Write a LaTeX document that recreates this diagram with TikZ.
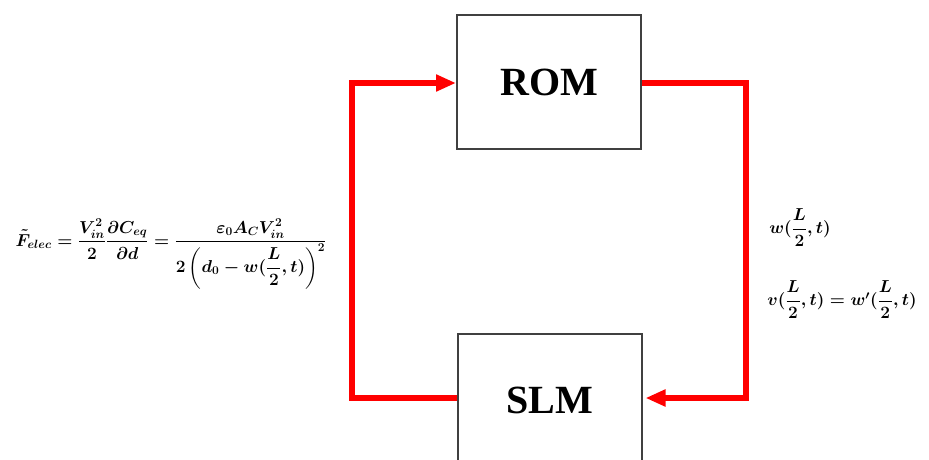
\documentclass[tikz,border=0pt]{standalone}
\usepackage{amsmath}
\usepackage{fontspec}
\setmainfont{Liberation Serif}
\usetikzlibrary{arrows.meta}
\begin{document}
\begin{tikzpicture}[x=1pt,y=-1pt,
	block/.style={draw=black!75,line width=2pt,minimum width=184pt,minimum height=133pt,inner sep=0pt,font=\bfseries\fontsize{40}{40}\selectfont},
	link/.style={red,line width=6pt},
	tip/.style={-{Triangle[length=20pt,width=16pt]}},
	eq/.style={inner sep=0pt,font=\fontsize{18.5}{22}\selectfont\boldmath}]
	\useasboundingbox (0,0) rectangle (929,460);
	\clip (0,0) rectangle (929,460);
	% Define the blocks
	\node[block] (rom) at (549,82) {ROM};
	\node[block] (slm) at (549.5,400) {SLM};
	% Define the corners
	\coordinate (lt) at (352,83);
	\coordinate (lb) at (352,398);
	\coordinate (rt) at (746,83);
	\coordinate (rb) at (746,398);
	% Draw the loop
	\draw[link,tip] (slm.west |- lb) -- (lb) -- (lt) -- (rom.west |- lt);
	\draw[link,tip,shorten >=3pt] (rom.east |- rt) -- (rt) -- (rb) -- (slm.east |- rb);
	% Add labels
	\node[eq] (force) at (171,254) {$\displaystyle \tilde{F}_{elec}=\frac{V_{in}^2}{2}\frac{\partial C_{eq}}{\partial d}=\frac{\varepsilon_0 A_C V_{in}^2}{2\left(d_0-w(\dfrac{L}{2},t)\right)^2}$};
	\node[eq] (disp) at (800,228) {$w(\dfrac{L}{2},t)$};
	\node[eq] (vel) at (842,300) {$v(\dfrac{L}{2},t)=w'(\dfrac{L}{2},t)$};
\end{tikzpicture}
\end{document}
